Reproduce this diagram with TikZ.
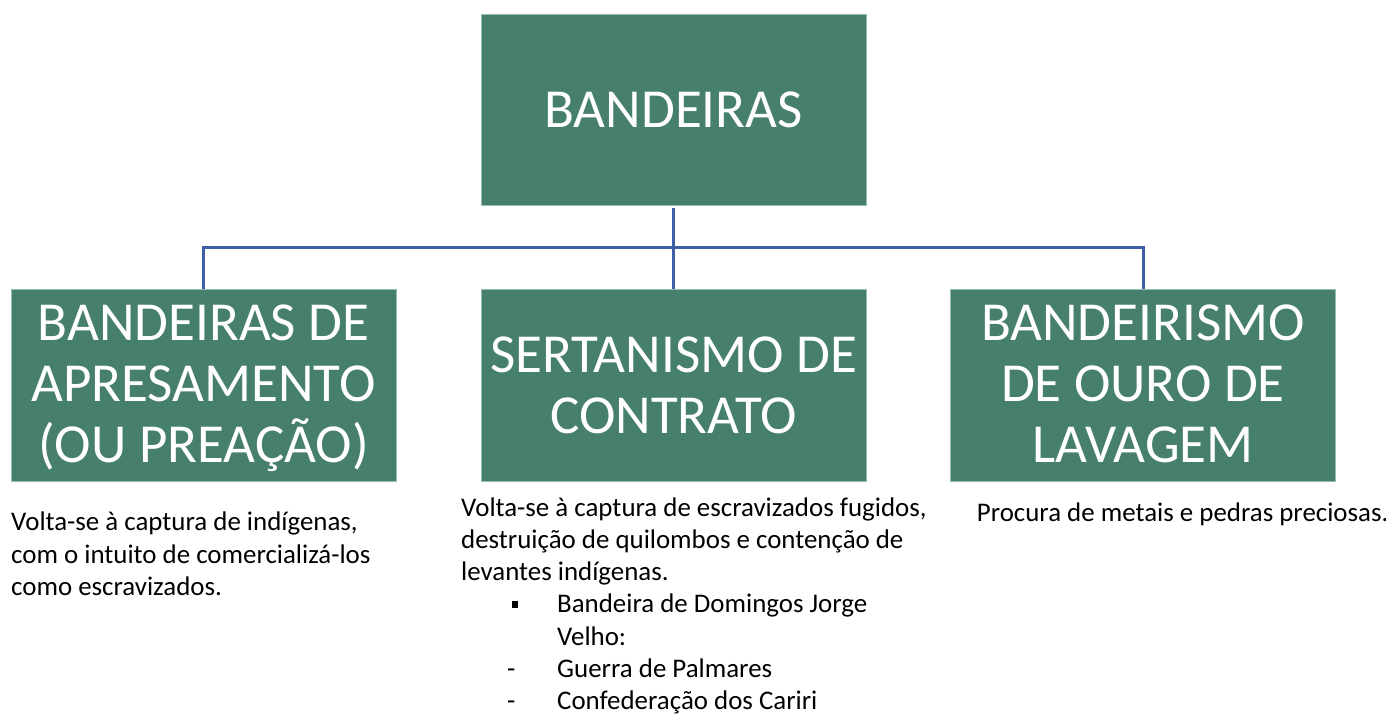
\documentclass[tikz,border=0pt]{standalone}
\usepackage{fontspec}
\setmainfont{Carlito}
\definecolor{boxgreen}{RGB}{70,127,108}
\definecolor{boxedge}{RGB}{150,190,175}
\definecolor{linkblue}{RGB}{62,94,168}
\tikzset{
  catbox/.style={draw=boxedge, line width=0.8pt, fill=boxgreen, rectangle, minimum width=385pt, minimum height=192pt, inner sep=0pt},
  boxtext/.style={text=white, anchor=base, text width=385pt, align=flush center, inner sep=0pt, font=\fontsize{55}{61}\selectfont},
  bodytext/.style={text=black, anchor=base west, text width=500pt, align=flush left, inner sep=0pt, font=\fontsize{26.9}{32.3}\selectfont},
  link/.style={draw=linkblue, line width=3pt}
}
\begin{document}
\begin{tikzpicture}[x=1pt,y=-1pt]
\useasboundingbox[fill=white] (0,0) rectangle (1386,713);
% boxes
\node[catbox, minimum height=191pt] (top) at (673.5,109.5) {};
\node[catbox] (left) at (203.5,385) {};
\node[catbox] (mid) at (673.5,385) {};
\node[catbox] (right) at (1143,385) {};
% box texts
\node[boxtext] (toptxt) at (673.5,127) {BANDEIRAS};
\node[boxtext] (lefttxt) at (203.5,340.7) {BANDEIRAS DE\\APRESAMENTO\\(OU PREAÇÃO)};
\node[boxtext] (midtxt) at (673.5,372) {SERTANISMO DE\\CONTRATO};
\node[boxtext] (righttxt) at (1143,340.7) {BANDEIRISMO\\DE OURO DE\\LAVAGEM};
% connectors
\coordinate (hub) at (673.5,247.5);
\draw[link] ([yshift=-3pt]top.south) -- (hub);
\draw[link] (left.north) |- (hub) -| (right.north);
\draw[link] (hub) -- (mid.north);
% body texts
\node[bodytext, text width=420pt] (leftdesc) at (11,530.7) {Volta-se à captura de indígenas,\\com o intuito de comercializá-los\\como escravizados.};
\node[bodytext] (middesc) at (461,516) {Volta-se à captura de escravizados fugidos,\\destruição de quilombos e contenção de\\levantes indígenas.\\
\hspace*{50.7pt}\makebox[45.3pt][l]{\raisebox{5pt}{\rule{6.5pt}{7pt}}}Bandeira de Domingos Jorge\\
\hspace*{96pt}Velho:\\
\hspace*{46pt}\makebox[50pt][l]{-}Guerra de Palmares\\
\hspace*{46pt}\makebox[50pt][l]{-}Confederação dos Cariri};
\node[bodytext, text width=420pt] (rightdesc) at (976.7,521.7) {Procura de metais e pedras preciosas.};
\end{tikzpicture}
\end{document}
